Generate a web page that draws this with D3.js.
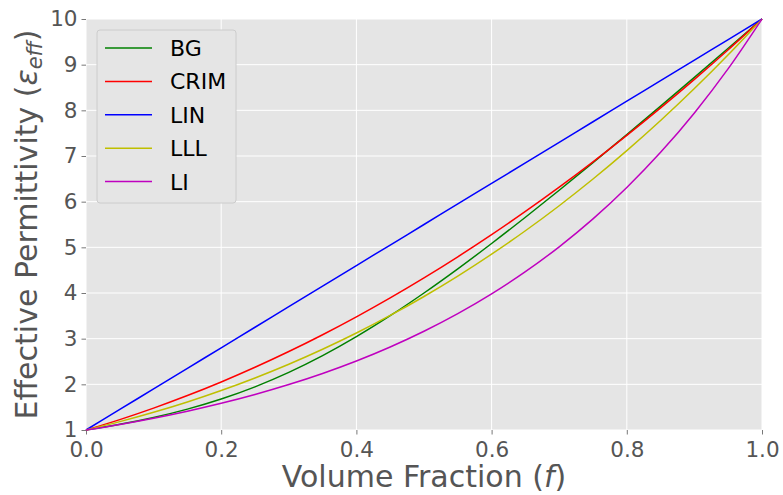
<!DOCTYPE html>
<html><head><meta charset="utf-8">
<script src="https://cdn.jsdelivr.net/npm/d3@7"></script>
<style>body{margin:0;background:#fff}svg{display:block}text{font-family:"DejaVu Sans",sans-serif}</style>
</head><body>
<svg id="c" width="783" height="495"></svg>
<script>
const fractions = [0,0.05,0.1,0.15,0.2,0.25,0.3,0.35,0.4,0.45,0.5,0.55,0.6,0.65,0.7,0.75,0.8,0.85,0.9,0.95,1];
const bgValues = [1,1.1239,1.2742,1.4569,1.6786,1.9453,2.2612,2.6278,3.0431,3.5025,4.0,4.529,5.0836,5.6586,6.25,6.8545,7.4694,8.0928,8.7232,9.3592,10];
const crimValues = [1,1.2279,1.4792,1.7539,2.0519,2.3734,2.7182,3.0863,3.4779,3.8928,4.3311,4.7928,5.2779,5.7863,6.3182,6.8734,7.4519,8.0539,8.6792,9.3279,10];
const linValues = [1,1.45,1.9,2.35,2.8,3.25,3.7,4.15,4.6,5.05,5.5,5.95,6.4,6.85,7.3,7.75,8.2,8.65,9.1,9.55,10];
const lllValues = [1,1.1833,1.3879,1.6146,1.8649,2.1398,2.4404,2.7679,3.1235,3.5083,3.9235,4.3702,4.8496,5.3629,5.9111,6.4955,7.1172,7.7773,8.4771,9.2176,10];
const liValues = [1,1.122,1.2589,1.4125,1.5849,1.7783,1.9953,2.2387,2.5119,2.8184,3.1623,3.5481,3.9811,4.4668,5.0119,5.6234,6.3096,7.0795,7.9433,8.9125,10];
const seriesNames = ["BG","CRIM","LIN","LLL","LI"];
const seriesColors = ["#008000","#ff0000","#0000ff","#bfbf00","#bf00bf"];
const xTicks = [0,0.2,0.4,0.6,0.8,1.0];
const yTicks = [1,2,3,4,5,6,7,8,9,10];

const allValues = [bgValues, crimValues, linValues, lllValues, liValues];
const svg = d3.select("#c");
const L=86,R=762,T=19,B=430;
const x = d3.scaleLinear().domain([0,1]).range([L,R]);
const y = d3.scaleLinear().domain([1,10]).range([B,T]);

svg.append("rect").attr("x",L).attr("y",T).attr("width",R-L).attr("height",B-T).attr("fill","#e5e5e5");
const g = svg.append("g");
g.selectAll(".gx").data(xTicks).enter().append("line")
 .attr("x1",d=>x(d)).attr("x2",d=>x(d)).attr("y1",T).attr("y2",B).attr("stroke","#fff").attr("stroke-width",1);
g.selectAll(".gy").data(yTicks).enter().append("line")
 .attr("y1",d=>y(d)).attr("y2",d=>y(d)).attr("x1",L).attr("x2",R).attr("stroke","#fff").attr("stroke-width",1);

const xa = svg.append("g").attr("transform",`translate(0,${B})`)
 .call(d3.axisBottom(x).tickValues(xTicks).tickFormat(d3.format(".1f")).tickSize(4.5).tickPadding(7));
const ya = svg.append("g").attr("transform",`translate(${L},0)`)
 .call(d3.axisLeft(y).tickValues(yTicks).tickFormat(d3.format("d")).tickSize(4.5).tickPadding(4));
[xa,ya].forEach(a=>{
  a.select(".domain").remove();
  a.selectAll(".tick line").attr("stroke","#555").attr("stroke-width",0.8);
  a.selectAll(".tick text").attr("fill","#555").style("font-size","21.5px").style("font-family","DejaVu Sans");
});

const line = d3.line().x((d,i)=>x(fractions[i])).y(d=>y(d)).curve(d3.curveMonotoneX);
const plot = svg.append("g");
allValues.forEach((vals,k)=>{
  plot.append("path").datum(vals).attr("d",line).attr("fill","none")
   .attr("stroke",seriesColors[k]).attr("stroke-width",1.5);
});

// legend
const lg = svg.append("g");
lg.append("rect").attr("x",97).attr("y",30).attr("width",139).attr("height",173).attr("rx",3)
 .attr("fill","#e5e5e5").attr("stroke","#cccccc").attr("stroke-width",1);
seriesNames.forEach((n,k)=>{
  const yy = 48 + k*33.4;
  lg.append("line").attr("x1",105).attr("x2",152).attr("y1",yy).attr("y2",yy)
   .attr("stroke",seriesColors[k]).attr("stroke-width",1.5);
  lg.append("text").attr("x",170).attr("y",yy+8).text(n).style("font-size","22px").attr("fill","#000");
});

// axis labels
const xl = svg.append("text").attr("x",(L+R)/2).attr("y",487).attr("text-anchor","middle")
 .attr("fill","#555").style("font-size","30px");
xl.append("tspan").text("Volume Fraction (");
xl.append("tspan").text("f").style("font-style","italic");
xl.append("tspan").text(")");

const yl = svg.append("text").attr("transform",`translate(37,${(T+B)/2}) rotate(-90)`).attr("text-anchor","middle")
 .attr("fill","#555").style("font-size","30px");
yl.append("tspan").text("Effective Permittivity (");
yl.append("tspan").text("ε").style("font-style","italic");
yl.append("tspan").text("eff").style("font-style","italic").style("font-size","21px").attr("dy","5");
yl.append("tspan").text(")").attr("dy","-5");
</script>
</body></html>
